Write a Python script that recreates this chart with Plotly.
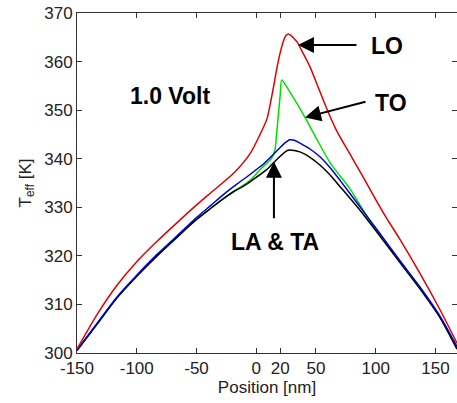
import plotly.graph_objects as go

# Position [nm] and T_eff [K] for each phonon branch
lo_x = [-150, -133, -117, -100, -83, -66, -48, -38, -19, -5, 3, 9, 12, 15, 17, 20, 23, 25, 27, 29,
        31, 34, 39, 45, 52, 59, 67, 80, 90, 100, 110, 120, 137, 154, 168]
lo_y = [300.8, 308.0, 313.8, 318.8, 323.0, 326.9, 330.9, 333.0, 337.0, 341.1, 344.9, 348.2, 351.6,
        355.5, 358.3, 361.8, 364.4, 365.4, 365.7, 365.4, 364.9, 364.1, 361.8, 358.9, 354.6, 350.3,
        345.9, 340.3, 336.0, 331.6, 327.4, 323.5, 316.4, 308.8, 302.0]

to_x = [-150, -133, -117, -100, -83, -66, -50, -38, -28, -19, -11, -5, 5, 12.9, 15.6, 17, 18.5, 20,
        21.3, 25, 30, 35, 42, 50, 62, 70, 78, 85, 95, 103.5, 120, 137, 154, 168]
to_y = [300.5, 306.0, 311.2, 315.8, 320.0, 323.9, 327.5, 329.8, 331.7, 333.3, 334.5, 335.6, 338.2,
        340.1, 341.8, 345.0, 349.0, 353.0, 356.2, 355.0, 353.0, 351.0, 348.0, 344.3, 339.1, 336.5,
        334.0, 331.2, 327.2, 324.2, 318.8, 313.3, 307.3, 300.8]

la_x = [-150, -133, -117, -100, -83, -66, -50, -38, -28, -16, -5, 5, 11.5, 20, 25.4, 28, 32, 36.6,
        45, 53.3, 62, 70, 86.8, 103.5, 120, 137, 154, 168]
la_y = [300.6, 306.2, 311.4, 316.0, 320.3, 324.2, 327.9, 330.4, 332.5, 334.8, 336.8, 338.7, 340.2,
        342.3, 343.5, 343.9, 343.8, 343.2, 342.0, 340.4, 338.1, 335.6, 330.1, 324.6, 319.1, 313.6,
        307.5, 301.3]

ta_x = [-150, -133, -117, -100, -83, -66, -50, -38, -28, -19, -11, -5, 9, 17, 25.4, 28, 32, 36.6,
        45, 53.3, 62, 70, 86.8, 103.5, 120, 137, 154, 168]
ta_y = [300.5, 306.0, 311.2, 315.8, 320.0, 323.9, 327.5, 329.8, 331.7, 333.2, 334.3, 335.3, 337.8,
        339.8, 341.6, 341.8, 341.7, 341.4, 340.3, 338.7, 336.6, 334.3, 329.4, 324.1, 318.7, 313.2,
        307.2, 300.8]

x_ticks = [-150, -100, -50, 0, 20, 50, 100, 150]
y_ticks = [300, 310, 320, 330, 340, 350, 360, 370]

FONT = "Liberation Sans, Arial, sans-serif"

fig = go.Figure()
series = [(to_x, to_y, "#00e000", "TO"), (ta_x, ta_y, "#000000", "TA"),
          (la_x, la_y, "#0000d0", "LA"), (lo_x, lo_y, "#e00000", "LO")]
for xs, ys, col, nm in series:
    fig.add_trace(go.Scatter(x=xs, y=ys, mode="lines", name=nm,
                             line=dict(color=col, width=1.5, shape="spline", smoothing=0.7)))

bold = dict(family=FONT, size=23, color="black")
ann = [
    dict(x=-107.6, y=353.0, text="<b>1.0 Volt</b>", xanchor="left", yanchor="middle", font=bold),
    dict(x=94.6, y=363.2, text="<b>LO</b>", xanchor="left", yanchor="middle", font=bold),
    dict(x=97.7, y=351.5, text="<b>TO</b>", xanchor="left", yanchor="middle", font=bold),
    dict(x=-22.9, y=322.9, text="<b>LA &amp; TA</b>", xanchor="left", yanchor="middle", font=bold),
]
for a in ann:
    a.update(xref="x", yref="y", showarrow=False)
arrows = [
    dict(x=34.9, y=363.4, ax=60, ay=0),
    dict(x=40.8, y=348.5, ax=62, ay=-16),
    dict(x=14.8, y=339.4, ax=0, ay=58),
]
for a in arrows:
    a.update(xref="x", yref="y", text="", showarrow=True, arrowhead=2, arrowwidth=2,
             arrowsize=1.6, arrowcolor="black", standoff=0, startstandoff=0)
fig.update_layout(annotations=ann + arrows)

axis_common = dict(showline=True, linecolor="#333333", linewidth=1, mirror="ticks",
                   ticks="inside", ticklen=5, tickcolor="#333333", showgrid=False,
                   zeroline=False, tickfont=dict(family=FONT, size=17, color="#222222"))
fig.update_xaxes(range=[-150, 168], tickvals=x_ticks, ticktext=[str(v) for v in x_ticks],
                 title=dict(text="Position [nm]", font=dict(family=FONT, size=17, color="#222222"),
                            standoff=2),
                 **axis_common)
fig.update_yaxes(range=[300, 370], tickvals=y_ticks, ticktext=[str(v) for v in y_ticks],
                 title=dict(text="T<sub>eff</sub> [K]", font=dict(family=FONT, size=17, color="#222222"),
                            standoff=8),
                 **axis_common)

fig.update_layout(width=457, height=403, margin=dict(l=77, r=0, t=13, b=50),
                  plot_bgcolor="white", paper_bgcolor="white", showlegend=False)

fig.write_html("out.html")
